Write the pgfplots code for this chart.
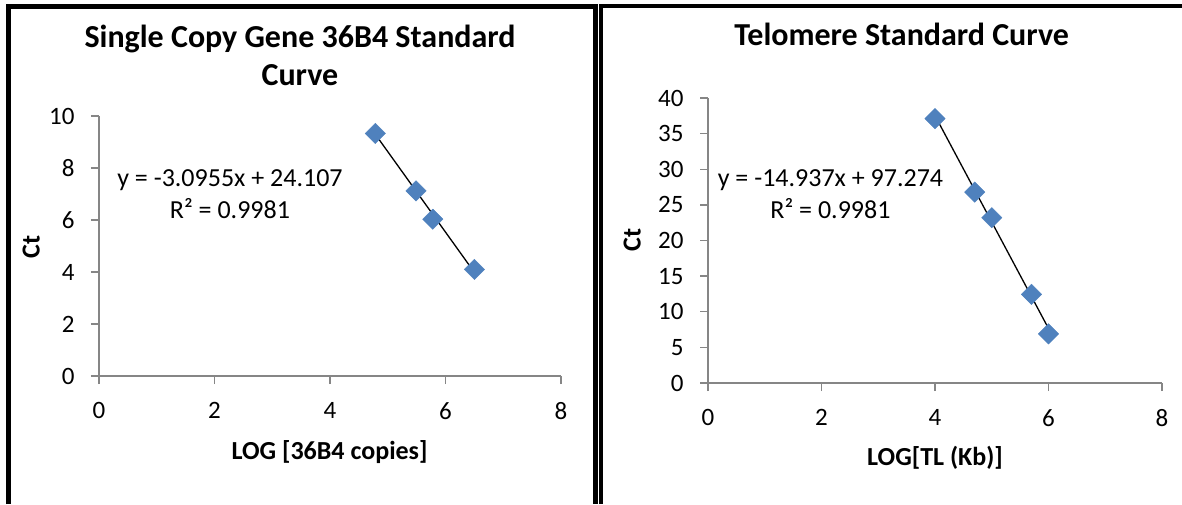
\documentclass[border=0pt]{standalone}
\usepackage{pgfplots}
\pgfplotsset{compat=1.18}
\usepackage{fontspec}
\setmainfont{Carlito}
\definecolor{exblue}{HTML}{4F81BD}
\definecolor{axgray}{HTML}{868686}
\pgfplotsset{
 excel/.style={
  scale only axis,
  axis lines*=left,
  axis line style={axgray, line width=1.3pt, -},
  tick style={axgray, line width=1.3pt},
  tick align=outside,
  major tick length=8pt,
  xmin=0, xmax=8, xtick={0,2,4,6,8},
  ticklabel style={font=\fontsize{25}{30}\selectfont, text=black},
  xticklabel style={yshift=-15pt},
  yticklabel style={xshift=-13pt},
  /pgf/number format/assume math mode=true,
  label style={font=\bfseries\fontsize{26}{31}\selectfont},
  title style={font=\bfseries\fontsize{32}{38}\selectfont, align=center, anchor=center},
  clip=false,
 }
}
\begin{document}
\begin{tikzpicture}
\path[use as bounding box] (0pt,0pt) rectangle (1182pt,-504pt);
\draw[line width=5pt] (8.5pt,-504pt) -- (8.5pt,-6pt) -- (595pt,-6pt) -- (595pt,-504pt);
\draw[line width=4.5pt] (601pt,-504pt) -- (601pt,-6pt) -- (1182pt,-6pt);

\begin{axis}[excel, at={(99pt,-376pt)}, anchor=south west, width=462pt, height=260pt,
 ymin=0, ymax=10, ytick={0,2,4,6,8,10},
 title={Single Copy Gene 36B4 Standard\\Curve},
 title style={at={(axis description cs:0.435,1.2115)}},
 xlabel={LOG [36B4 copies]},
 xlabel style={at={(axis description cs:0.499,-0.292)}, anchor=center},
 ylabel={Ct},
 ylabel style={at={(axis description cs:-0.147,0.496)}, anchor=center}]
\addplot[only marks, mark=square*, mark size=7.2pt, mark options={rotate=45, fill=exblue, draw=exblue}]
 coordinates {(4.785,9.33) (5.49,7.12) (5.78,6.03) (6.50,4.10)};
\addplot[black, line width=1.3pt, no marks] coordinates {(4.785,9.296) (6.5,3.986)};
\node[align=center, font=\fontsize{26}{32}\selectfont] at (axis cs:2.268,7.0) {y = -3.0955x + 24.107\\R² = 0.9981};
\end{axis}

\begin{axis}[excel, at={(708pt,-383pt)}, anchor=south west, width=454pt, height=285pt,
 ymin=0, ymax=40, ytick={0,5,10,15,20,25,30,35,40},
 title={Telomere Standard Curve},
 title style={at={(axis description cs:0.4266,1.2035)}},
 xlabel={LOG[TL (Kb)]},
 xlabel style={at={(axis description cs:0.5,-0.263)}, anchor=center},
 ylabel={Ct},
 ylabel style={at={(axis description cs:-0.167,0.502)}, anchor=center}]
\addplot[only marks, mark=square*, mark size=7.2pt, mark options={rotate=45, fill=exblue, draw=exblue}]
 coordinates {(4.0,37.1) (4.7,26.8) (5.0,23.2) (5.7,12.45) (6.0,6.9)};
\addplot[black, line width=1.3pt, no marks] coordinates {(4.0,37.526) (6.0,7.652)};
\node[align=center, font=\fontsize{26}{32}\selectfont] at (axis cs:2.158,26.5) {y = -14.937x + 97.274\\R² = 0.9981};
\end{axis}
\end{tikzpicture}
\end{document}
